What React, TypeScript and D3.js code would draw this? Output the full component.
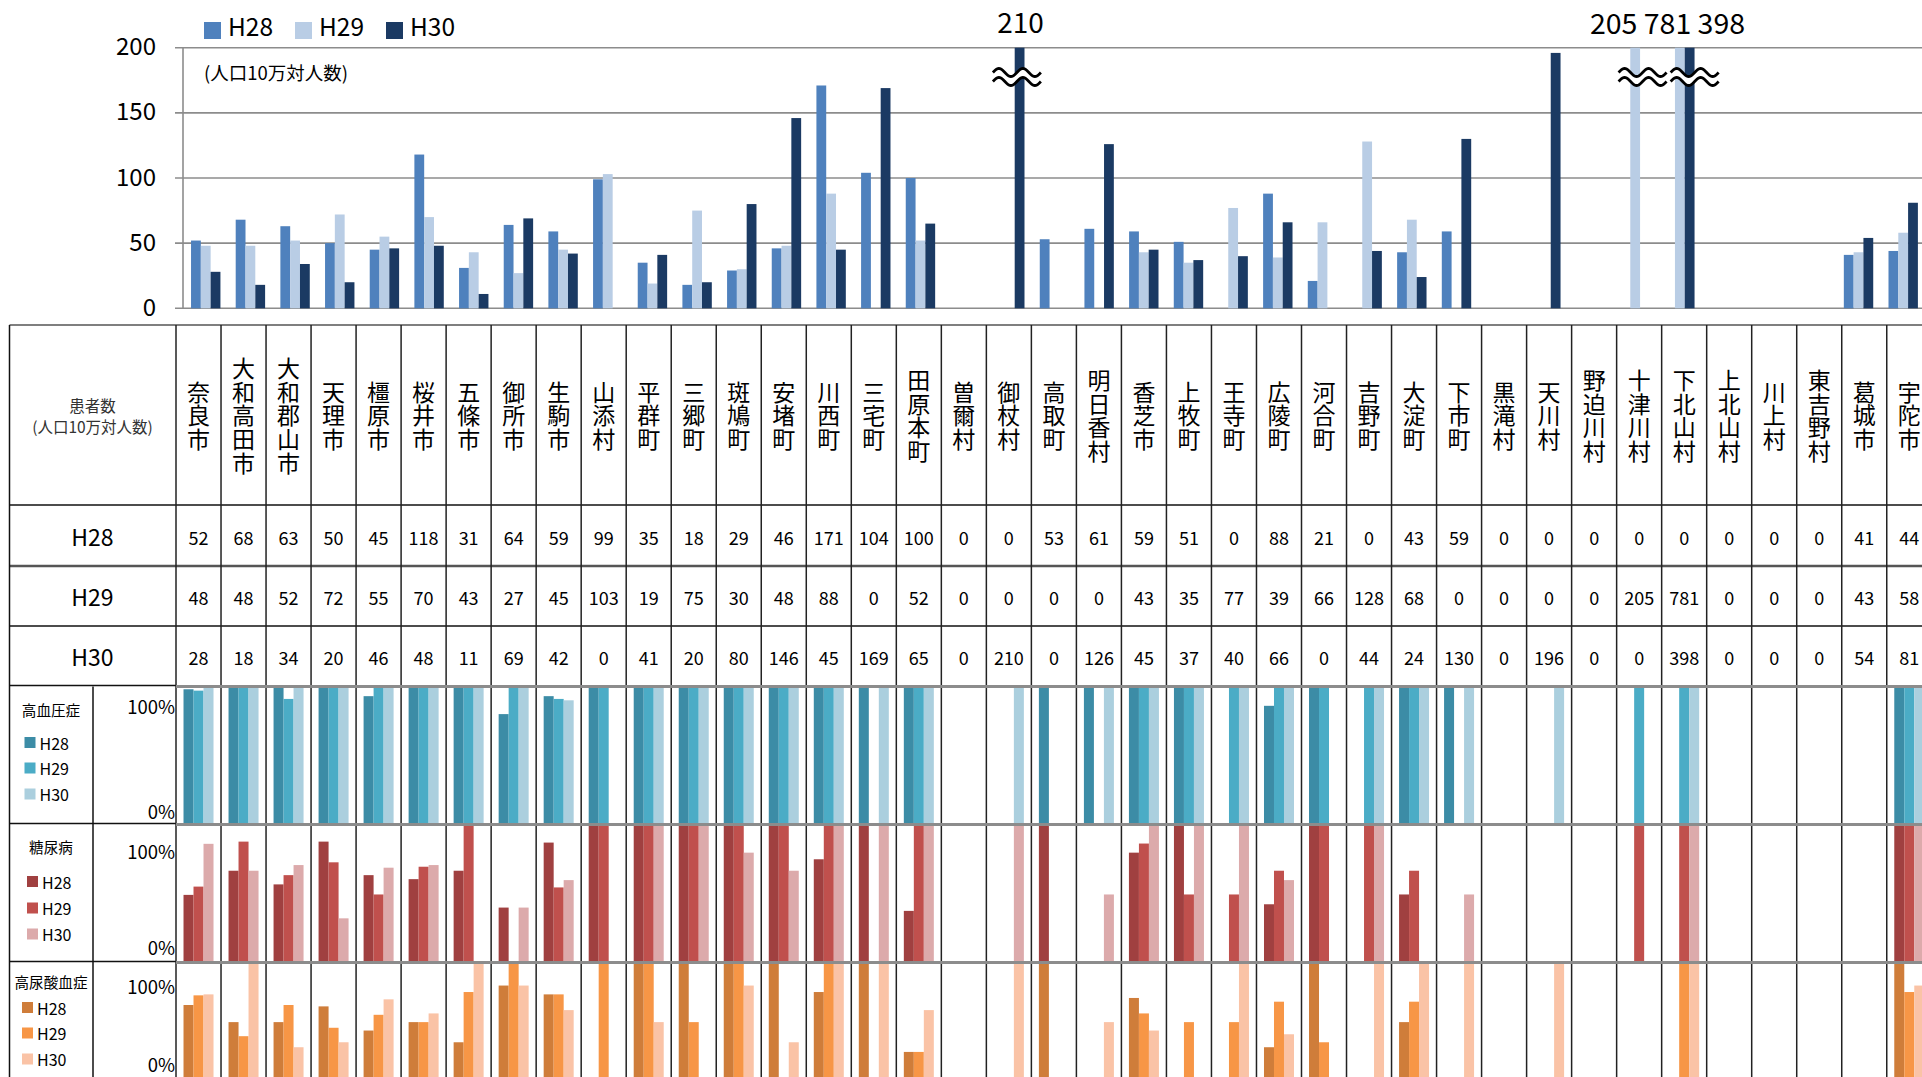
import React from "react";
import * as d3 from "d3";

// ---------- data ----------
const municipalities = [
  "奈良市", "大和高田市", "大和郡山市", "天理市", "橿原市", "桜井市", "五條市", "御所市", "生駒市", "山添村",
  "平群町", "三郷町", "斑鳩町", "安堵町", "川西町", "三宅町", "田原本町", "曽爾村", "御杖村", "高取町",
  "明日香村", "香芝市", "上牧町", "王寺町", "広陵町", "河合町", "吉野町", "大淀町", "下市町", "黒滝村",
  "天川村", "野迫川村", "十津川村", "下北山村", "上北山村", "川上村", "東吉野村", "葛城市", "宇陀市",
];
const years = ["H28", "H29", "H30"];

const patientsH28 = [52, 68, 63, 50, 45, 118, 31, 64, 59, 99, 35, 18, 29, 46, 171, 104, 100, 0, 0, 53, 61, 59, 51, 0, 88, 21, 0, 43, 59, 0, 0, 0, 0, 0, 0, 0, 0, 41, 44];
const patientsH29 = [48, 48, 52, 72, 55, 70, 43, 27, 45, 103, 19, 75, 30, 48, 88, 0, 52, 0, 0, 0, 0, 43, 35, 77, 39, 66, 128, 68, 0, 0, 0, 0, 205, 781, 0, 0, 0, 43, 58];
const patientsH30 = [28, 18, 34, 20, 46, 48, 11, 69, 42, 0, 41, 20, 80, 146, 45, 169, 65, 0, 210, 0, 126, 45, 37, 40, 66, 0, 44, 24, 130, 0, 196, 0, 0, 398, 0, 0, 0, 54, 81];

const yTicks = [0, 50, 100, 150, 200];
const yMax = 200;

const N = null;
// 高血圧症 (%)
const hypertensionH28 = [98, 100, 100, 100, 93, 100, 100, 80, 93, 100, 100, 100, 100, 100, 100, 100, 100, N, N, 100, 100, 100, 100, N, 86, 100, N, 100, 100, N, N, N, N, N, N, N, N, N, 100];
const hypertensionH29 = [97, 100, 91, 100, 100, 100, 100, 100, 91, 100, 100, 100, 100, 100, 100, N, 100, N, N, N, N, 100, 100, 100, 100, 100, 100, 100, N, N, N, N, 100, 100, N, N, N, N, 100];
const hypertensionH30 = [100, 100, 100, 100, 100, 100, 100, 100, 90, N, 100, 100, 100, 100, 100, 100, 100, N, 100, N, 100, 100, 100, 100, 100, N, 100, 100, 100, N, 100, N, N, 100, N, N, N, N, 100];
// 糖尿病 (%)
const diabetesH28 = [49, 66.5, 56.6, 87.6, 63.3, 60.4, 66.5, 39.8, 86.9, 100, 100, 100, 100, 100, 74.8, 100, 37.4, N, N, 100, N, 79.6, 100, N, 42.2, 100, N, 49.3, N, N, N, N, N, N, N, N, N, N, 100];
const diabetesH29 = [55, 87.6, 63.3, 72.6, 49.3, 69.4, 100, N, 54.4, 100, 100, 100, 100, 100, 100, N, 100, N, N, N, N, 86.2, 49.3, 49.3, 66.5, 100, 100, 66.5, N, N, N, N, 100, 100, N, N, N, N, 100];
const diabetesH30 = [86, 66.5, 70.6, 32, 68.7, 70.6, N, 39.8, 59.7, N, 100, 100, 79.6, 66.5, 100, 100, 100, N, 100, N, 49.3, 100, 100, 100, 59.7, N, 100, N, 49.3, N, N, N, N, 100, N, N, N, N, 100];
// 高尿酸血症 (%)
const hyperuricemiaH28 = [69.2, 56.8, 56.8, 68.2, 50.7, 56.8, 42.2, 83.3, 76.9, N, 100, 100, 100, 100, 78.6, 100, 35.2, N, N, 100, N, 74.3, N, N, 38.6, 100, N, 56.8, N, N, N, N, N, N, N, N, N, N, 100];
const hyperuricemiaH29 = [76.2, 46.6, 69.2, 52.7, 62.1, 56.8, 78.6, 100, 76.9, 100, 100, 56.8, 100, N, 100, N, 35.2, N, N, N, N, 63.1, 56.8, 56.8, 71.6, 42.2, N, 71.6, N, N, N, N, N, 100, N, N, N, N, 78.6];
const hyperuricemiaH30 = [76.9, 100, 38.6, 42.2, 73.3, 63.1, 100, 83.3, 65.5, N, 56.8, N, 83.3, 42.2, 100, 100, 65.5, N, 100, N, 56.8, 50.7, N, 100, 48, N, 100, 100, 100, N, 100, N, N, 100, N, N, N, N, 83.3];

const panelNames = ["高血圧症", "糖尿病", "高尿酸血症"];
const pctTicks = ["100%", "0%"];

// broken-axis annotations
const breakMarks = [
  { cat: "御杖村", year: "H30", dx: -2.7 },
  { cat: "十津川村", year: "H29", dx: 7.4 },
  { cat: "下北山村", year: "H30", dx: 5 },
];

// ---------- style / layout ----------
const FONT = "'Noto Sans CJK JP', 'Noto Sans', sans-serif";
const topColors = ["#4f81bd", "#b9cde5", "#1b3a63"];
const panelColors = [
  ["#3c8ca6", "#4bacc6", "#abcfde"],
  ["#a04040", "#c0504d", "#dcaaab"],
  ["#cf7d3a", "#f79646", "#fac3a6"],
];
const W = 1922;
const H = 1077;

const topX0 = 183.4;
const topBand = 44.67;
const topY0 = 308.3;
const topY1 = 47.7;

const tabLeft = 9.5;
const tabX0 = 176;
const tabCol = 45.02;
const rowLines = [325, 505, 566, 626, 686.5];
const panelTops = [686.5, 824.5, 962.5];
const panelH = 138;
const panelLayout = [
  { title: 22.5, leg: [56, 81.5, 107.5], legX: 24.5, p100: 19.5, p0: 124 },
  { title: 22, leg: [57, 83.5, 109.5], legX: 27, p100: 26, p0: 122 },
  { title: 18.5, leg: [45, 70.5, 96.5], legX: 22, p100: 23.5, p0: 101 },
];

function wavePath(cx: number, cy: number, off: number, dir: number) {
  const pts: [number, number][] = [];
  for (let u = 0; u <= 48; u += 1) {
    pts.push([cx - 24 + u, cy + off - 4 * Math.sin((2 * Math.PI * u) / 24)]);
  }
  if (dir < 0) pts.reverse();
  return pts;
}

export default function App() {
  const topSeries = [patientsH28, patientsH29, patientsH30];
  const panels = [
    [hypertensionH28, hypertensionH29, hypertensionH30],
    [diabetesH28, diabetesH29, diabetesH30],
    [hyperuricemiaH28, hyperuricemiaH29, hyperuricemiaH30],
  ];

  const xTop = d3.scaleBand<string>().domain(municipalities).range([topX0, topX0 + topBand * municipalities.length]);
  const topGroup = 29.4;
  const xTopSub = d3.scaleBand<string>().domain(years).range([0, topGroup]);
  const yTop = d3.scaleLinear().domain([0, yMax]).range([topY0, topY1]);

  const xTab = d3.scaleBand<string>().domain(municipalities).range([tabX0, tabX0 + tabCol * municipalities.length]);
  const panelGroup = 30;
  const xPanelSub = d3.scaleBand<string>().domain(years).range([0, panelGroup]);

  const topBarX = (cat: string, yr: string) => (xTop(cat) as number) + (topBand - topGroup) / 2 + (xTopSub(yr) as number);
  const line = d3.line();

  return (
    <div style={{ position: "fixed", left: 0, top: 0, width: W, height: H, overflow: "hidden", background: "#fff" }}>
      <svg width={W} height={H} style={{ display: "block", fontFamily: FONT }}>
        {/* ---------- top chart ---------- */}
        {yTicks.map((t) => (
          <g key={"g" + t}>
            <line x1={175} x2={W} y1={yTop(t)} y2={yTop(t)} stroke="#8c8c8c" strokeWidth={1.6} />
            <text x={156} y={yTop(t) - 3} textAnchor="end" dominantBaseline="central" fontSize={24} fill="#000">
              {t}
            </text>
          </g>
        ))}
        <line x1={topX0 - 0.4} x2={topX0 - 0.4} y1={topY1} y2={topY0} stroke="#8c8c8c" strokeWidth={1.6} />
        <text x={204} y={72} dominantBaseline="central" fontSize={18.5} fill="#000">(人口10万対人数)</text>

        {topSeries.map((series, si) =>
          series.map((v, i) =>
            v > 0 ? (
              <rect
                key={`t${si}-${i}`}
                x={topBarX(municipalities[i], years[si])}
                y={yTop(Math.min(v, yMax))}
                width={xTopSub.bandwidth()}
                height={topY0 - yTop(Math.min(v, yMax))}
                fill={topColors[si]}
              />
            ) : null
          )
        )}

        {/* break marks */}
        {breakMarks.map((b, k) => {
          const cx = topBarX(b.cat, b.year) + xTopSub.bandwidth() / 2 + b.dx;
          const cy = 77;
          const a = wavePath(cx, cy, -4.5, 1);
          const c = wavePath(cx, cy, 4.5, -1);
          return (
            <g key={"br" + k}>
              <path d={(line(a.concat(c)) as string) + "Z"} fill="#fff" />
              <path d={line(a) as string} fill="none" stroke="#000" strokeWidth={2.8} />
              <path d={line(c) as string} fill="none" stroke="#000" strokeWidth={2.8} />
            </g>
          );
        })}
        <text
          x={topBarX("御杖村", "H30") + xTopSub.bandwidth() / 2 + 1}
          y={33}
          textAnchor="middle"
          fontSize={28}
          fill="#000"
        >
          {String(patientsH30[municipalities.indexOf("御杖村")])}
        </text>
        <text x={(xTop("下北山村") as number) + 10} y={34} textAnchor="middle" fontSize={28.5} fill="#000">
          {`${patientsH29[municipalities.indexOf("十津川村")]} ${patientsH29[municipalities.indexOf("下北山村")]} ${patientsH30[municipalities.indexOf("下北山村")]}`}
        </text>

        {/* top legend */}
        {years.map((yr, i) => (
          <g key={"lg" + yr} transform={`translate(${204 + i * 91},0)`}>
            <rect x={0} y={22} width={17} height={17} fill={topColors[i]} />
            <text x={24} y={35.5} fontSize={24.5} fill="#000">{yr}</text>
          </g>
        ))}

        {/* ---------- table ---------- */}
        {/* header */}
        <text x={92.5} y={404.5} textAnchor="middle" dominantBaseline="central" fontSize={15.5} fill="#333">患者数</text>
        <text x={92.5} y={426} textAnchor="middle" dominantBaseline="central" fontSize={15.5} fill="#333">(人口10万対人数)</text>
        {municipalities.map((m) => {
          const cx = (xTab(m) as number) + tabCol / 2;
          return (
            <text
              key={m}
              x={cx}
              y={416}
              textAnchor="middle"
              writingMode="vertical-rl"
              fontSize={23}
              letterSpacing={0.7}
              fill="#000"
            >
              {m}
            </text>
          );
        })}
        {/* value rows */}
        {topSeries.map((series, si) => {
          const cy = (rowLines[si + 1] + rowLines[si + 2]) / 2;
          return (
            <g key={"row" + si}>
              <text x={92.5} y={cy} textAnchor="middle" dominantBaseline="central" fontSize={23} fill="#000">{years[si]}</text>
              {series.map((v, i) => (
                <text
                  key={i}
                  x={(xTab(municipalities[i]) as number) + tabCol / 2}
                  y={cy + 1}
                  textAnchor="middle"
                  dominantBaseline="central"
                  fontSize={18}
                  fill="#000"
                >
                  {v}
                </text>
              ))}
            </g>
          );
        })}

        {/* panels */}
        {panels.map((pseries, pi) => {
          const top = panelTops[pi];
          const yP = d3.scaleLinear().domain([0, 100]).range([top + panelH, top]);
          const L = panelLayout[pi];
          return (
            <g key={"p" + pi}>
              {pseries.map((series, si) =>
                series.map((v, i) =>
                  v == null ? null : (
                    <rect
                      key={`p${pi}-${si}-${i}`}
                      x={(xTab(municipalities[i]) as number) + (tabCol - panelGroup) / 2 + (xPanelSub(years[si]) as number)}
                      y={yP(v)}
                      width={xPanelSub.bandwidth()}
                      height={yP(0) - yP(v)}
                      fill={panelColors[pi][si]}
                    />
                  )
                )
              )}
              <text x={51} y={top + L.title} textAnchor="middle" dominantBaseline="central" fontSize={14.6} fill="#000">
                {panelNames[pi]}
              </text>
              {years.map((yr, k) => (
                <g key={yr}>
                  <rect x={L.legX} y={top + L.leg[k] - 5.5} width={11} height={11} fill={panelColors[pi][k]} />
                  <text x={L.legX + 15} y={top + L.leg[k]} dominantBaseline="central" fontSize={16} fill="#000">{yr}</text>
                </g>
              ))}
              <text x={175} y={top + L.p100} textAnchor="end" dominantBaseline="central" fontSize={18.5} fill="#000">{pctTicks[0]}</text>
              <text x={175} y={top + L.p0} textAnchor="end" dominantBaseline="central" fontSize={18.5} fill="#000">{pctTicks[1]}</text>
            </g>
          );
        })}

        {/* grid lines of table */}
        <line x1={tabLeft} x2={W} y1={rowLines[0]} y2={rowLines[0]} stroke="#555" strokeWidth={1.5} />
        <line x1={tabLeft} x2={W} y1={rowLines[1]} y2={rowLines[1]} stroke="#111" strokeWidth={1.5} />
        <line x1={tabLeft} x2={W} y1={rowLines[2]} y2={rowLines[2]} stroke="#555" strokeWidth={2.5} />
        <line x1={tabLeft} x2={W} y1={rowLines[3]} y2={rowLines[3]} stroke="#111" strokeWidth={1.5} />
        {panelTops.map((t) => (
          <g key={"pl" + t}>
            <line x1={tabLeft} x2={tabX0} y1={t - 1} y2={t - 1} stroke="#111" strokeWidth={1.5} />
          </g>
        ))}
        <line x1={tabLeft} x2={tabLeft} y1={rowLines[0]} y2={H} stroke="#111" strokeWidth={1.5} />
        <line x1={93} x2={93} y1={panelTops[0]} y2={H} stroke="#111" strokeWidth={1.5} />
        {municipalities.map((m) => (
          <line key={"v" + m} x1={xTab(m) as number} x2={xTab(m) as number} y1={rowLines[0]} y2={H} stroke="#222" strokeWidth={1.5} />
        ))}
        {panelTops.map((t) => (
          <line key={"gp" + t} x1={tabX0} x2={W} y1={t} y2={t} stroke="#8c8c8c" strokeWidth={3} />
        ))}
      </svg>
    </div>
  );
}
